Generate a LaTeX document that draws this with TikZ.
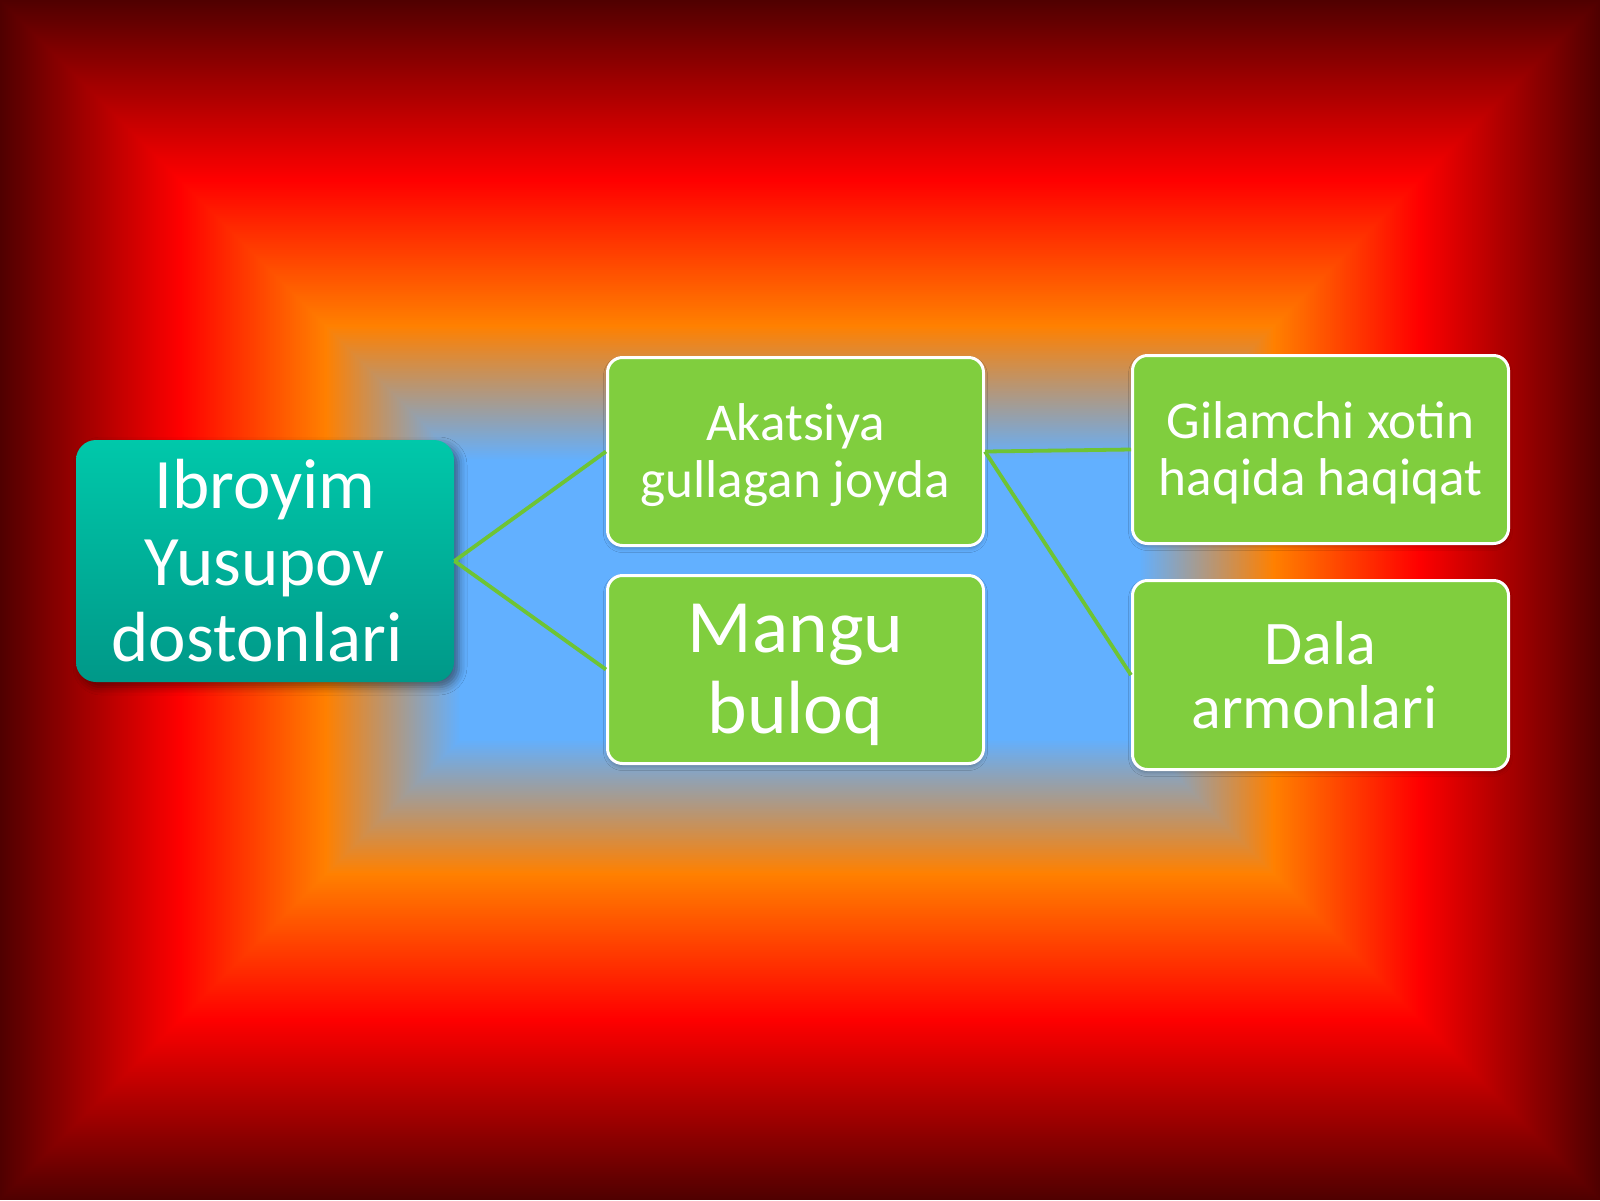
\documentclass[tikz,border=0pt]{standalone}
\usepackage{fontspec}
\setmainfont{Carlito}
\usetikzlibrary{shadows.blur}
\definecolor{bgmaroon}{HTML}{500000}
\definecolor{bgred}{HTML}{FF0000}
\definecolor{bgorange}{HTML}{FF8000}
\definecolor{bgblue}{HTML}{62B0FF}
\definecolor{boxgreen}{HTML}{80CE3E}
\definecolor{lineg}{HTML}{6EC434}
\definecolor{tealtop}{HTML}{00C8AA}
\definecolor{tealbot}{HTML}{009888}
\newcommand{\lowerby}[2]{\rule{0pt}{\dimexpr\fontcharht\font`#1+#2\relax}}
\begin{document}
\begin{tikzpicture}[x=0.5pt,y=-0.5pt,
  greenbox/.style={draw=white, line width=1.5pt, fill=boxgreen, rounded corners=7.5pt,
    minimum width=188pt, minimum height=94pt, inner sep=0pt, align=center, text=white,
    blur shadow={shadow xshift=0pt, shadow yshift=-1.5pt, shadow opacity=25, shadow blur radius=2pt}},
  leftbox/.style={top color=tealtop, bottom color=tealbot, draw=none, rounded corners=10pt,
    minimum width=189pt, minimum height=121pt, inner sep=0pt, align=center, text=white,
    blur shadow={shadow xshift=2.5pt, shadow yshift=-2.5pt, shadow opacity=45, shadow blur radius=4pt}},
  conn/.style={draw=lineg, line width=1.9pt}
]
\useasboundingbox (0,0) rectangle (1600,1200);
% background rectangular gradient
\foreach \d in {0,2,...,178}{
  \pgfmathsetmacro\p{\d/180*100}
  \fill[bgred!\p!bgmaroon] (\d,\d) rectangle (1600-\d,1200-\d);
}
\foreach \d in {180,182,...,324}{
  \pgfmathsetmacro\p{(\d-180)/145*100}
  \fill[bgorange!\p!bgred] (\d,\d) rectangle (1600-\d,1200-\d);
}
\foreach \d in {325,327,...,459}{
  \pgfmathsetmacro\p{(\d-325)/135*100}
  \fill[bgblue!\p!bgorange] (\d,\d) rectangle (1600-\d,1200-\d);
}
\fill[bgblue] (460,460) rectangle (1140,740);

% nodes
\node[leftbox, font=\fontsize{35.5}{38.25}\selectfont] (L) at (265,561) {Ibroyim\\Yusupov\\dostonlari\hspace*{8pt}};
\node[greenbox, font=\fontsize{26.6}{28.5}\selectfont] (A) at (795.5,451.5) {\lowerby{l}{4pt}Akatsiya\\gullagan joyda};
\node[greenbox, font=\fontsize{37.7}{40.5}\selectfont] (M) at (795.5,669.5) {\lowerby{M}{5pt}Mangu\\buloq};
\node[greenbox, font=\fontsize{26.6}{28.5}\selectfont] (G) at (1320.5,449.5) {\lowerby{l}{3pt}Gilamchi xotin\\haqida haqiqat};
\node[greenbox, font=\fontsize{31}{32}\selectfont, minimum height=94.5pt] (D) at (1320.5,675) {Dala\\armonlari\hspace*{6pt}};

% connectors
\draw[conn] (L.east) -- (A.west);
\draw[conn] (L.east) -- (M.west);
\draw[conn] (A.east) -- (G.west);
\draw[conn] (A.east) -- (D.west);
\end{tikzpicture}
\end{document}
